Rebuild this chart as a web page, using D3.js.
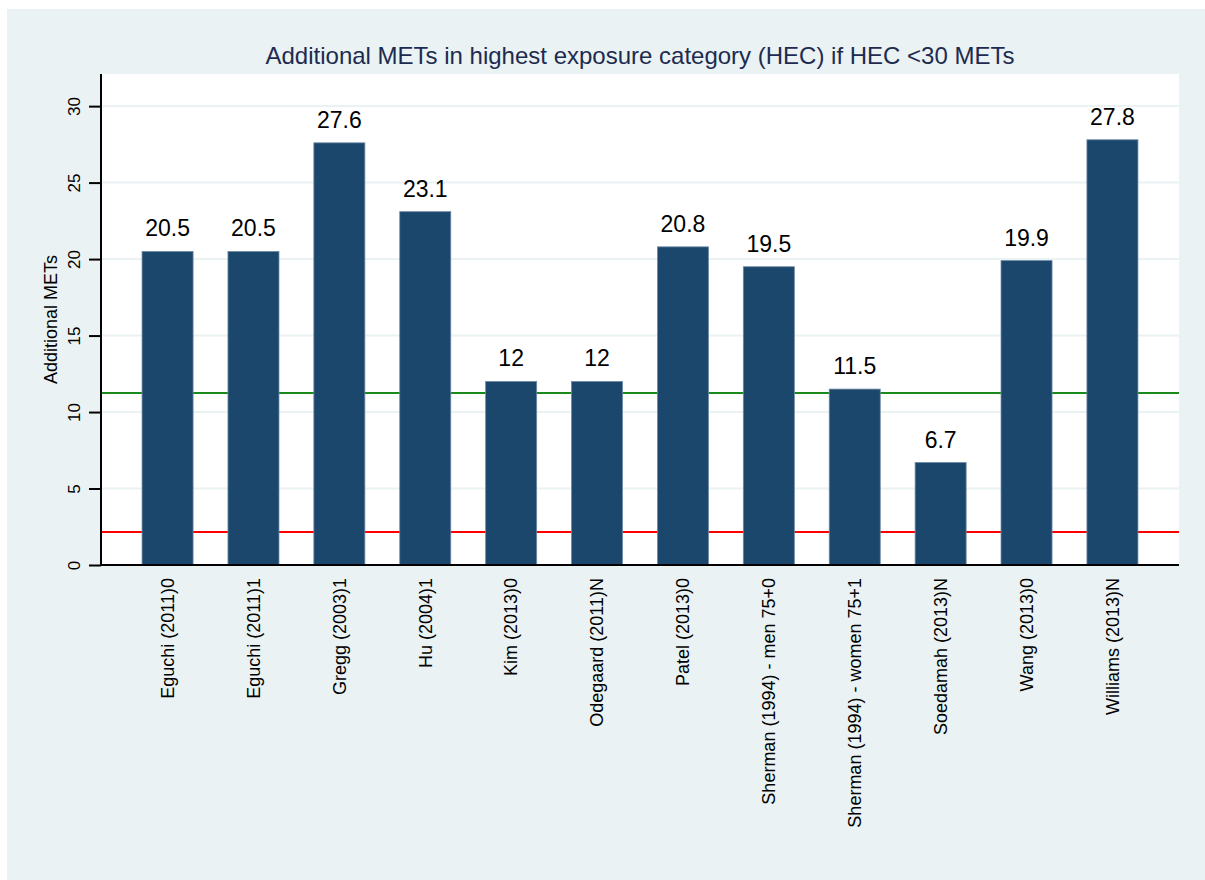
<!DOCTYPE html>
<html>
<head>
<meta charset="utf-8">
<script src="https://cdn.jsdelivr.net/npm/d3@7"></script>
<style>
  body { margin: 0; background: #fff; }
  svg { display: block; font-family: "Liberation Sans", Arial, sans-serif; }
</style>
</head>
<body>
<div id="chart"></div>
<script>
var studies = ["Eguchi (2011)0", "Eguchi (2011)1", "Gregg (2003)1", "Hu (2004)1", "Kim (2013)0",
  "Odegaard (2011)N", "Patel (2013)0", "Sherman (1994) - men 75+0", "Sherman (1994) - women 75+1",
  "Soedamah (2013)N", "Wang (2013)0", "Williams (2013)N"];
var mets = [20.5, 20.5, 27.6, 23.1, 12, 12, 20.8, 19.5, 11.5, 6.7, 19.9, 27.8];
var yTicks = [0, 5, 10, 15, 20, 25, 30];
var refValues = [11.24, 2.16];
var refColors = ["#1a8a1a", "#ff0000"];

var width = 1205, height = 880;
var plot = {left: 101, right: 1179, top: 74, bottom: 565};

var svg = d3.select("#chart").append("svg")
  .attr("width", width)
  .attr("height", height);

// outer background
svg.append("rect")
  .attr("x", 7).attr("y", 9)
  .attr("width", width - 7).attr("height", height - 9)
  .attr("fill", "#eaf2f3");

svg.append("rect")
  .attr("x", plot.left).attr("y", plot.top)
  .attr("width", plot.right - plot.left).attr("height", plot.bottom - plot.top)
  .attr("fill", "#fff");

var x = d3.scaleBand().domain(studies)
  .range([plot.left, plot.right])
  .paddingInner(0.406).paddingOuter(0.478);

var y = d3.scaleLinear().domain([0, 32.1]).range([plot.bottom, plot.top]);

// grid
svg.selectAll(".grid")
  .data(yTicks)
  .enter().append("line")
  .attr("x1", plot.left).attr("x2", plot.right)
  .attr("y1", function(d) { return y(d); })
  .attr("y2", function(d) { return y(d); })
  .attr("stroke", "#eaf2f3")
  .attr("stroke-width", 2);

// reference lines
svg.selectAll(".ref")
  .data(refValues)
  .enter().append("line")
  .attr("x1", plot.left).attr("x2", plot.right)
  .attr("y1", function(d) { return y(d); })
  .attr("y2", function(d) { return y(d); })
  .attr("stroke", function(d, i) { return refColors[i]; })
  .attr("stroke-width", 2);

// bars
svg.selectAll(".bar")
  .data(mets)
  .enter().append("rect")
  .attr("x", function(d, i) { return x(studies[i]); })
  .attr("y", function(d) { return y(d); })
  .attr("width", x.bandwidth())
  .attr("height", function(d) { return y(0) - y(d); })
  .attr("fill", "#1c476d")
  .attr("stroke", "#6e8aa6")
  .attr("stroke-width", 0.8);

// value labels
svg.selectAll(".val")
  .data(mets)
  .enter().append("text")
  .attr("x", function(d, i) { return x(studies[i]) + x.bandwidth() / 2; })
  .attr("y", function(d) { return y(d) - 15; })
  .attr("text-anchor", "middle")
  .attr("font-size", 23)
  .attr("fill", "#000")
  .text(function(d) { return d; });

// y axis
var yAxis = svg.append("g")
  .attr("transform", "translate(" + plot.left + ",0)")
  .call(d3.axisLeft(y).tickValues(yTicks).tickSize(12).tickSizeOuter(0));
yAxis.select(".domain").remove();
yAxis.selectAll(".tick line").attr("stroke", "#000").attr("stroke-width", 2);
yAxis.selectAll(".tick text")
  .attr("x", null).attr("dy", "0.35em")
  .attr("transform", "translate(-27,0) rotate(-90)")
  .attr("text-anchor", "middle")
  .attr("font-size", 17)
  .attr("font-family", "Liberation Sans, Arial, sans-serif")
  .attr("fill", "#000");

svg.append("line")
  .attr("x1", plot.left).attr("x2", plot.left)
  .attr("y1", plot.top).attr("y2", plot.bottom + 1)
  .attr("stroke", "#000").attr("stroke-width", 2);

// x axis line
svg.append("line")
  .attr("x1", plot.left - 1).attr("x2", plot.right)
  .attr("y1", plot.bottom).attr("y2", plot.bottom)
  .attr("stroke", "#000").attr("stroke-width", 2);

// x labels
svg.selectAll(".xlab")
  .data(studies)
  .enter().append("text")
  .attr("transform", function(d) {
    return "translate(" + (x(d) + x.bandwidth() / 2) + ",578) rotate(-90)";
  })
  .attr("dy", "0.35em")
  .attr("text-anchor", "end")
  .attr("font-size", 18)
  .attr("fill", "#000")
  .text(function(d) { return d; });

// y title
svg.append("text")
  .attr("transform", "translate(57," + ((plot.top + plot.bottom) / 2) + ") rotate(-90)")
  .attr("text-anchor", "middle")
  .attr("font-size", 18)
  .attr("fill", "#000")
  .text("Additional METs");

// title
svg.append("text")
  .attr("x", (plot.left + plot.right) / 2)
  .attr("y", 64)
  .attr("text-anchor", "middle")
  .attr("font-size", 24)
  .attr("fill", "#1e2b50")
  .text("Additional METs in highest exposure category (HEC) if HEC <30 METs");
</script>
</body>
</html>
